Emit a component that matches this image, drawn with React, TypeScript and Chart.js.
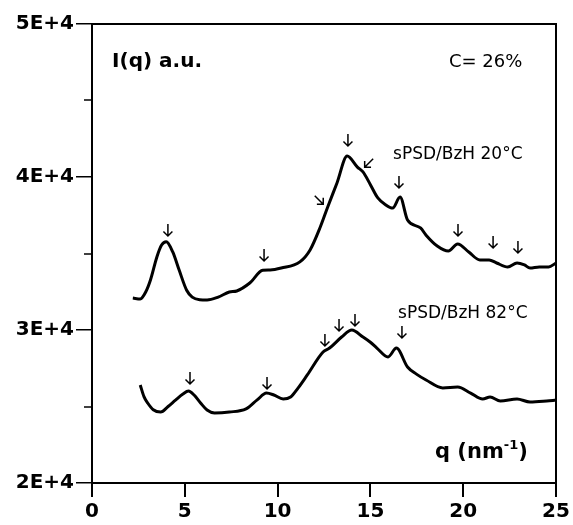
import { useEffect, useRef } from "react";
import { Chart, registerables } from "chart.js";

Chart.register(...registerables);

// ---- data ----
const q20 = [2.2, 2.6, 2.9, 3.15, 3.5, 3.75, 4.0, 4.35, 4.7, 5.1, 5.4, 5.8, 6.2, 6.8, 7.4, 7.8, 8.5, 9.2, 9.6, 10.2, 11.2, 11.75, 12.3, 12.7, 13.2, 13.75, 14.3, 14.6, 15.0, 15.4, 15.8, 16.2, 16.6, 17.0, 17.7, 18.0, 18.6, 19.2, 19.7, 20.3, 20.9, 21.4, 21.8, 22.4, 22.9, 23.3, 23.6, 24.1, 24.6, 25.0];
const i20 = [32090, 32030, 32500, 33270, 34790, 35550, 35770, 35100, 33900, 32600, 32150, 31980, 31960, 32150, 32480, 32550, 33070, 33900, 33920, 34050, 34450, 35230, 36730, 38040, 39610, 41370, 40650, 40330, 39500, 38630, 38200, 37970, 38690, 37190, 36670, 36200, 35490, 35160, 35620, 35100, 34580, 34580, 34380, 34120, 34380, 34250, 34050, 34120, 34120, 34380];

const q82 = [2.6, 2.8, 3.0, 3.3, 3.7, 4.1, 4.5, 4.9, 5.2, 5.5, 5.85, 6.2, 6.6, 7.4, 8.3, 8.9, 9.4, 9.8, 10.3, 10.7, 11.1, 11.6, 12.45, 12.8, 13.45, 14.0, 14.6, 15.0, 15.35, 15.95, 16.4, 17.0, 17.5, 18.0, 18.9, 19.7, 20.4, 21.05, 21.45, 22.0, 22.9, 23.6, 24.5, 25.0];
const i82 = [26400, 25650, 25230, 24790, 24640, 25000, 25420, 25820, 26010, 25750, 25230, 24770, 24580, 24640, 24840, 25430, 25880, 25750, 25490, 25620, 26200, 27060, 28560, 28820, 29540, 30000, 29540, 29200, 28820, 28240, 28820, 27580, 27100, 26730, 26210, 26270, 25880, 25490, 25620, 25360, 25490, 25290, 25360, 25420];

// peak-marking arrows (centre position, tilt in degrees: 0 = pointing down)
const arrowQ = [4.09, 9.27, 12.23, 13.79, 14.92, 16.54, 19.72, 21.61, 22.95, 5.28, 9.43, 12.55, 13.31, 14.17, 16.7];
const arrowI = [36536, 34902, 38497, 42418, 40915, 39673, 36536, 35752, 35425, 26863, 26536, 29346, 30327, 30654, 29869];
const arrowTilt = [0, 0, -45, 0, 45, 0, 0, 0, 0, 0, 0, 0, 0, 0, 0];

const xTicks = [0, 5, 10, 15, 20, 25];
const yTickLabels = ["2E+4", "3E+4", "4E+4", "5E+4"];
const yMinorTicks = [25000, 35000, 45000];

const label20 = "sPSD/BzH 20°C";
const label82 = "sPSD/BzH 82°C";
const yTitle = "I(q) a.u.";
const concLabel = "C= 26%";

export default function App() {
  const ref = useRef<HTMLCanvasElement | null>(null);

  useEffect(() => {
    if (!ref.current) return;
    const overlay = {
      id: "overlay",
      afterDatasetsDraw(chart: any) {
        const { ctx, chartArea } = chart;
        const xs = chart.scales.x;
        const ys = chart.scales.y;
        ctx.save();
        ctx.strokeStyle = "#000";
        ctx.fillStyle = "#000";
        // frame top and right
        ctx.lineWidth = 2;
        ctx.beginPath();
        ctx.moveTo(chartArea.left, chartArea.top);
        ctx.lineTo(chartArea.right, chartArea.top);
        ctx.lineTo(chartArea.right, chartArea.bottom);
        ctx.stroke();
        // minor y ticks
        ctx.lineWidth = 1.5;
        yMinorTicks.forEach((v) => {
          const py = Math.round(ys.getPixelForValue(v));
          ctx.beginPath();
          ctx.moveTo(chartArea.left - 8, py);
          ctx.lineTo(chartArea.left, py);
          ctx.stroke();
        });
        // arrows
        ctx.lineWidth = 1.5;
        arrowQ.forEach((q, k) => {
          const px = xs.getPixelForValue(q);
          const py = ys.getPixelForValue(arrowI[k]);
          ctx.save();
          ctx.translate(px, py);
          ctx.rotate((arrowTilt[k] * Math.PI) / 180);
          ctx.beginPath();
          ctx.moveTo(0, -6);
          ctx.lineTo(0, 6);
          ctx.moveTo(-4.5, 1.5);
          ctx.lineTo(0, 6);
          ctx.lineTo(4.5, 1.5);
          ctx.stroke();
          ctx.restore();
        });
        // texts
        ctx.textBaseline = "middle";
        ctx.textAlign = "left";
        ctx.font = "bold 20px 'DejaVu Sans'";
        ctx.fillText(yTitle, xs.getPixelForValue(1.08), ys.getPixelForValue(47517));
        ctx.font = "18px 'DejaVu Sans'";
        ctx.fillText(concLabel, xs.getPixelForValue(19.23), ys.getPixelForValue(47484));
        ctx.font = "17px 'DejaVu Sans'";
        ctx.fillText(label20, xs.getPixelForValue(16.22), ys.getPixelForValue(41438));
        ctx.fillText(label82, xs.getPixelForValue(16.49), ys.getPixelForValue(31046));
        // x title with superscript
        const tx = xs.getPixelForValue(18.48);
        const ty = ys.getPixelForValue(21961);
        ctx.font = "bold 21px 'DejaVu Sans'";
        const part1 = "q (nm";
        ctx.fillText(part1, tx, ty);
        let w = ctx.measureText(part1).width;
        ctx.font = "bold 13px 'DejaVu Sans'";
        const sup = "-1";
        ctx.fillText(sup, tx + w, ty - 7);
        w += ctx.measureText(sup).width;
        ctx.font = "bold 21px 'DejaVu Sans'";
        ctx.fillText(")", tx + w, ty);
        ctx.restore();
      },
    };

    const chart = new Chart(ref.current, {
      type: "line",
      data: {
        datasets: [
          {
            label: label20,
            data: q20.map((q, k) => ({ x: q, y: i20[k] })),
            borderColor: "#000",
            borderWidth: 3,
            pointRadius: 0,
            cubicInterpolationMode: "monotone",
            fill: false,
          },
          {
            label: label82,
            data: q82.map((q, k) => ({ x: q, y: i82[k] })),
            borderColor: "#000",
            borderWidth: 3,
            pointRadius: 0,
            cubicInterpolationMode: "monotone",
            fill: false,
          },
        ],
      },
      options: {
        animation: false,
        responsive: false,
        maintainAspectRatio: false,
        layout: { padding: { left: 0, top: 24, right: 17, bottom: 0 } },
        plugins: { legend: { display: false }, tooltip: { enabled: false } },
        scales: {
          x: {
            type: "linear",
            min: 0,
            max: 25,
            afterBuildTicks: (s: any) => {
              s.ticks = xTicks.map((v) => ({ value: v }));
            },
            afterFit: (s: any) => {
              s.height = 42;
            },
            border: { display: true, color: "#000", width: 2 },
            grid: { drawOnChartArea: false, drawTicks: true, tickLength: 14, color: "#000", lineWidth: 2 },
            ticks: {
              color: "#000",
              padding: 3,
              maxRotation: 0,
              font: { family: "'DejaVu Sans'", size: 20, weight: "bold" },
            },
          },
          y: {
            type: "linear",
            min: 20000,
            max: 50000,
            afterBuildTicks: (s: any) => {
              s.ticks = yTickLabels.map((_, k) => ({ value: 20000 + k * 10000 }));
            },
            afterFit: (s: any) => {
              s.width = 92;
            },
            border: { display: true, color: "#000", width: 2 },
            grid: { drawOnChartArea: false, drawTicks: true, tickLength: 16, color: "#000", lineWidth: 1.5 },
            ticks: {
              color: "#000",
              padding: 2,
              callback: (v: any) => {
                const k = Math.round((Number(v) - 20000) / 10000);
                return yTickLabels[k] ?? "";
              },
              font: { family: "'DejaVu Sans'", size: 20, weight: "bold" },
            },
          },
        },
      },
      plugins: [overlay],
    });
    return () => chart.destroy();
  }, []);

  return (
    <div style={{ position: "fixed", left: 0, top: 0, width: 573, height: 525, background: "#fff" }}>
      <canvas ref={ref} width={573} height={525} style={{ width: 573, height: 525 }} />
    </div>
  );
}
